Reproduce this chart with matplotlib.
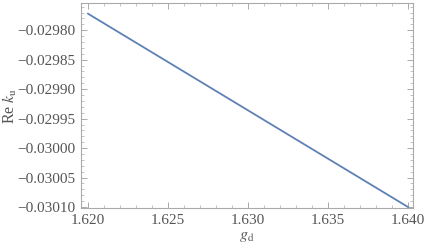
import matplotlib
matplotlib.use('Agg')
import matplotlib.pyplot as plt
from matplotlib.ticker import MultipleLocator, FormatStrFormatter, FuncFormatter

# donnees
g_d = [1.620, 1.625, 1.630, 1.635, 1.640]
re_ku = [-0.029772, -0.029854, -0.029936, -0.030018, -0.030100]
xticks = [1.620, 1.625, 1.630, 1.635, 1.640]
yticks = [-0.02980, -0.02985, -0.02990, -0.02995, -0.03000, -0.03005, -0.03010]

plt.rcParams['font.family'] = ['Liberation Serif', 'DejaVu Serif']
plt.rcParams['mathtext.fontset'] = 'stix'
gris = '#555555'

fig = plt.figure(figsize=(4.24, 2.48), dpi=100)
ax = fig.add_axes([0.191, 0.161, 0.783, 0.827])
ax.plot(g_d, re_ku, color='#5E81B5', lw=1.3)

ax.set_xlim(1.61956, 1.64031)
ax.set_ylim(-0.0301018, -0.0297538)
ax.set_xticks(xticks)
ax.set_yticks(yticks)
ax.xaxis.set_major_formatter(FormatStrFormatter('%.3f'))
ax.yaxis.set_major_formatter(FuncFormatter(lambda v, p: ('%.5f' % v).replace('-', '\u2212')))
ax.xaxis.set_minor_locator(MultipleLocator(0.001))
ax.yaxis.set_minor_locator(MultipleLocator(0.00001))

for s in ax.spines.values():
    s.set_color('#aaaaaa')
    s.set_linewidth(0.8)
ax.tick_params(which='both', direction='in', top=True, right=True,
               colors='#aaaaaa', labelcolor=gris, labelsize=11)
ax.tick_params(which='major', length=4, width=0.7, pad=4)
ax.tick_params(which='minor', length=2, width=0.5)

ax.set_xlabel(r'$g_\mathrm{d}$', color=gris, fontsize=11.5)
ax.set_ylabel(r'Re $k_\mathrm{u}$', color=gris, fontsize=11.5)
ax.xaxis.set_label_coords(0.5, -0.137)
ax.yaxis.set_label_coords(-0.214, 0.5)
ax.xaxis.label.set_va('center')
ax.yaxis.label.set_va('center')

plt.savefig('out.png', dpi=100)
